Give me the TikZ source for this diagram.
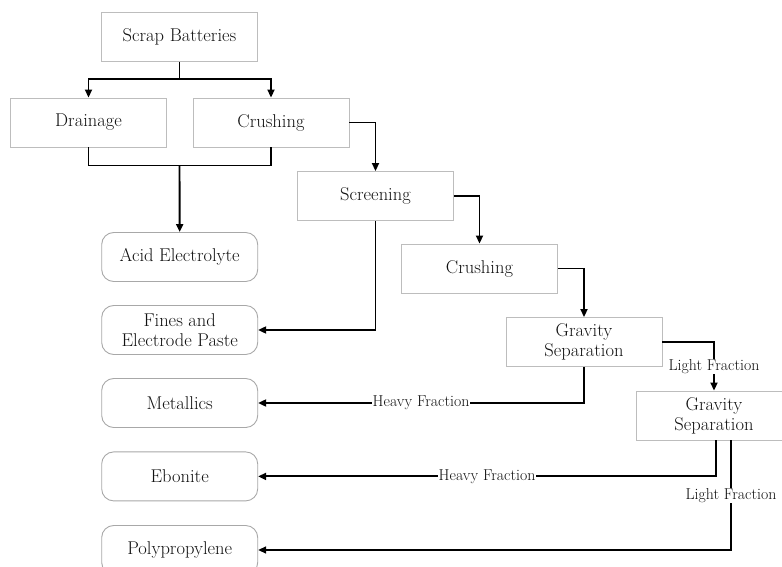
\documentclass[tikz,border=0pt]{standalone}
\usetikzlibrary{arrows.meta}
\definecolor{boxgray}{HTML}{BDBDBD}
\definecolor{rgray}{HTML}{A8A8A8}
\definecolor{txt}{HTML}{111111}
\newcommand\dgmfont{\fontsize{18.5}{20}\selectfont}
\newcommand\dgmlab{\fontsize{15.8}{17}\selectfont}
\begin{document}
\begin{tikzpicture}[x=1pt,y=-1pt,
  box/.style={draw=boxgray, line width=0.9pt, minimum width=156pt, minimum height=49pt,
              inner sep=0pt, align=center, font=\dgmfont, text=txt},
  rbox/.style={box, draw=rgray, rounded corners=12pt},
  conn/.style={line width=1.9pt, -{Triangle[length=8pt,width=7pt]}},
  thinconn/.style={line width=1.4pt, -{Triangle[length=8pt,width=7pt]}},
  plain/.style={line width=1.9pt},
  lab/.style={fill=white, inner sep=0.6pt, font=\dgmlab, text=txt}]
\useasboundingbox (0,0) rectangle (782,567);

% process boxes
\node[box] (scrap)  at (179.5,37)   {Scrap Batteries};
\node[box] (drain)  at (88.5,122.5) {Drainage};
\node[box] (crush1) at (271,122.5)  {Crushing};
\node[box] (screen) at (375.5,196)  {Screening};
\node[box] (crush2) at (479.5,268.5){Crushing};
\node[box] (grav1)  at (584,342)    {Gravity\\Separation};
\node[box] (grav2)  at (714,415.5)  {Gravity\\Separation};

% product boxes
\node[rbox] (acid)  at (179.7,257)  {Acid Electrolyte};
\node[rbox] (fines) at (179.7,330)  {Fines and\\Electrode Paste};
\node[rbox] (metal) at (179.7,403)  {Metallics};
\node[rbox] (ebon)  at (179.7,476.4){Ebonite};
\node[rbox] (poly)  at (179.7,550)  {Polypropylene};

% junctions
\coordinate (j1) at (179.5,79);
\coordinate (j2) at (179.5,165.5);

\draw[plain] (scrap.south) -- (j1);
\draw[conn] (j1) -| (drain.north);
\draw[conn] (j1) -| (crush1.north);

\draw[plain] (drain.south) -- (drain.south |- j2) -- (crush1.south |- j2) -- (crush1.south);
\draw[conn] (j2) -- (acid.north);

\draw[conn] (crush1.east) -| (screen.north);
\draw[conn] (screen.east) -| (crush2.north);
\draw[conn] (crush2.east) -| (grav1.north);
\draw[conn] (grav1.east) -| node[lab, pos=0.75] {Light Fraction} (grav2.north);

\draw[conn] (screen.south) |- (fines.east);
\draw[conn] (grav1.south) |- node[lab, pos=0.75] {Heavy Fraction} (metal.east);
\draw[conn] ([xshift=2pt]grav2.south) |- node[lab, pos=0.75] {Heavy Fraction} (ebon.east);
\draw[thinconn] ([xshift=17pt]grav2.south) |- node[lab, pos=0.25] {Light Fraction} (poly.east);
\end{tikzpicture}
\end{document}
